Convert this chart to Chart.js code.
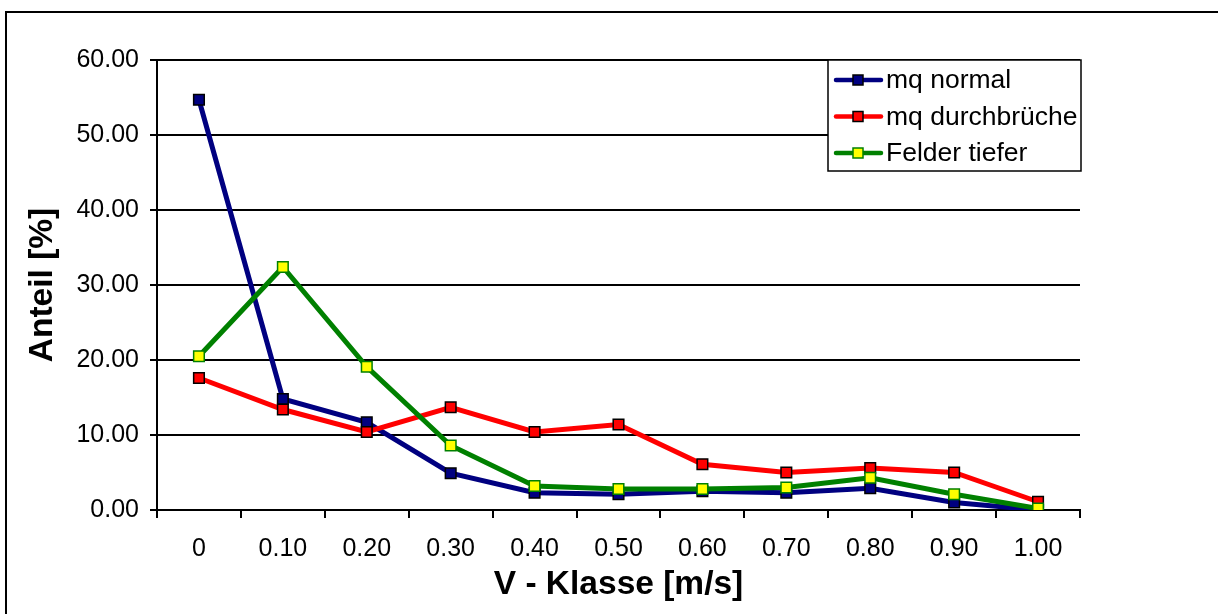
<!DOCTYPE html>
<html>
<head>
<meta charset="utf-8">
<script src="https://cdn.jsdelivr.net/npm/chart.js@4/dist/chart.umd.min.js"></script>
<style>
  html, body { margin: 0; padding: 0; background: #fff; }
  #wrap { width: 1218px; height: 614px; position: relative; }
</style>
</head>
<body>
<div id="wrap"><canvas id="myChart" width="1218" height="614"></canvas></div>
<script>
const categories = ["0", "0.10", "0.20", "0.30", "0.40", "0.50", "0.60", "0.70", "0.80", "0.90", "1.00"];
const mqNormal = [54.7, 14.8, 11.7, 4.9, 2.3, 2.1, 2.5, 2.3, 2.9, 1.0, 0.0];
const mqDurchbrueche = [17.6, 13.4, 10.4, 13.7, 10.4, 11.4, 6.1, 5.0, 5.6, 5.0, 1.1];
const felderTiefer = [20.5, 32.4, 19.1, 8.6, 3.2, 2.8, 2.8, 3.0, 4.3, 2.1, 0.2];
const yMin = 0, yMax = 60, yStep = 10;

const FONT = "'Liberation Sans', Arial, sans-serif";

// outer frame (only top and left edges show in the picture)
const framePlugin = {
  id: "frame",
  beforeDraw(chart) {
    let ctx = chart.ctx;
    ctx.save();
    ctx.strokeStyle = "#000";
    ctx.lineWidth = 2;
    ctx.beginPath();
    ctx.moveTo(6, 614);
    ctx.lineTo(6, 12);
    ctx.lineTo(1218, 12);
    ctx.stroke();
    ctx.restore();
  },
};

// legend box in the top right of the plot
const legendPlugin = {
  id: "boxLegend",
  afterDraw(chart) {
    let ctx = chart.ctx;
    let x0 = 828, y0 = 60, w = 253, h = 111;
    ctx.save();
    ctx.fillStyle = "#fff";
    ctx.fillRect(x0, y0, w, h);
    ctx.strokeStyle = "#000";
    ctx.lineWidth = 1.5;
    ctx.strokeRect(x0, y0, w, h);
    chart.data.datasets.forEach((ds, i) => {
      let cy = y0 + 20 + i * 36.5;
      ctx.strokeStyle = ds.borderColor;
      ctx.lineWidth = 4.5;
      ctx.lineCap = "round";
      ctx.beginPath();
      ctx.moveTo(836, cy);
      ctx.lineTo(881, cy);
      ctx.stroke();
      ctx.fillStyle = ds.pointBackgroundColor;
      ctx.strokeStyle = ds.pointBorderColor;
      ctx.lineWidth = 1.5;
      ctx.fillRect(853, cy - 5, 10, 10);
      ctx.strokeRect(853, cy - 5, 10, 10);
      ctx.fillStyle = "#000";
      ctx.font = "26.5px " + FONT;
      ctx.textBaseline = "middle";
      ctx.fillText(ds.label, 886, cy + 1);
    });
    ctx.restore();
  },
};

new Chart("myChart", {
  type: "line",
  data: {
    labels: categories,
    datasets: [
      {
        label: "mq normal",
        data: mqNormal,
        borderColor: "#000080",
        borderWidth: 5,
        pointStyle: "rect",
        pointRadius: 7.5,
        pointBackgroundColor: "#000080",
        pointBorderColor: "#000",
        pointBorderWidth: 1.5,
        lineTension: 0,
        order: 2,
      },
      {
        label: "mq durchbrüche",
        data: mqDurchbrueche,
        borderColor: "#ff0000",
        borderWidth: 5,
        pointStyle: "rect",
        pointRadius: 7.5,
        pointBackgroundColor: "#ff0000",
        pointBorderColor: "#000",
        pointBorderWidth: 1.5,
        lineTension: 0,
        order: 1,
      },
      {
        label: "Felder tiefer",
        data: felderTiefer,
        borderColor: "#008000",
        borderWidth: 5,
        pointStyle: "rect",
        pointRadius: 7.5,
        pointBackgroundColor: "#ffff00",
        pointBorderColor: "#008000",
        pointBorderWidth: 1.5,
        lineTension: 0,
        order: 0,
      },
    ],
  },
  options: {
    responsive: false,
    animation: false,
    layout: { padding: { top: 60, right: 138, left: 20, bottom: 0 } },
    plugins: {
      legend: { display: false },
      tooltip: { enabled: false },
    },
    scales: {
      x: {
        offset: true,
        afterFit: (s) => { s.height = 104; },
        grid: { offset: true, drawOnChartArea: false, color: "#000", lineWidth: 2, tickLength: 8 },
        border: { color: "#000", width: 2 },
        ticks: { color: "#000", font: { family: FONT, size: 25 }, padding: 16, maxRotation: 0 },
        title: {
          display: true,
          text: "V - Klasse [m/s]",
          color: "#000",
          font: { family: FONT, size: 33.5, weight: "bold" },
          padding: { top: 0, bottom: 9 },
        },
      },
      y: {
        min: yMin,
        max: yMax,
        afterFit: (s) => { s.width = 137; },
        grid: { color: "#000", lineWidth: 2, tickLength: 7 },
        border: { color: "#000", width: 2 },
        ticks: {
          stepSize: yStep,
          color: "#000",
          padding: 11,
          font: { family: FONT, size: 25 },
          callback: (v) => v.toFixed(2),
        },
        title: {
          display: true,
          text: "Anteil [%]",
          color: "#000",
          font: { family: FONT, size: 33.5, weight: "bold" },
          padding: { top: 3, bottom: 0 },
        },
      },
    },
  },
  plugins: [framePlugin, legendPlugin],
});
</script>
</body>
</html>
